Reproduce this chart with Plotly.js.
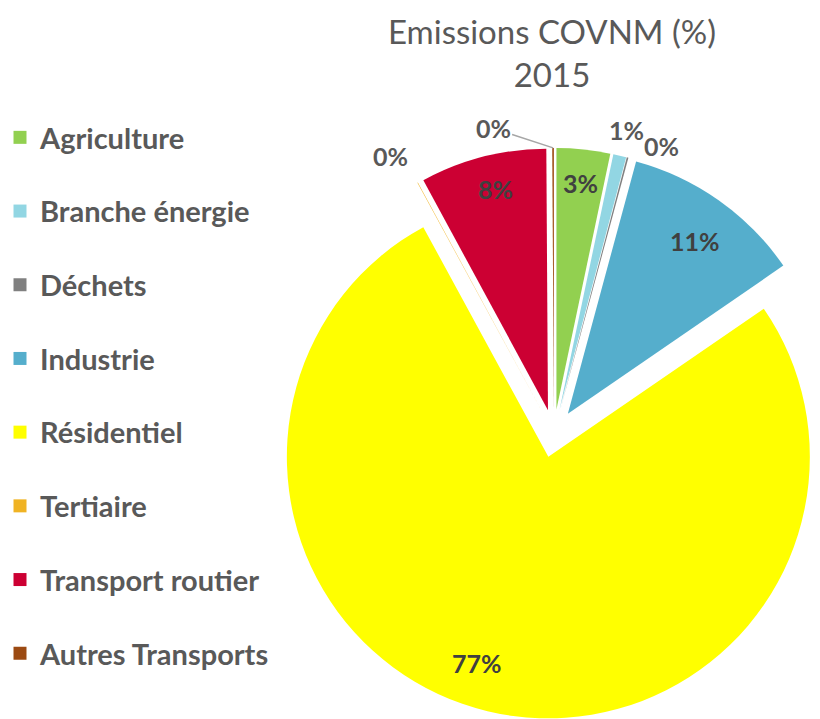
<!DOCTYPE html>
<html><head><meta charset="utf-8">
<script src="https://cdn.plot.ly/plotly-3.0.1.min.js"></script>
<style>html,body{margin:0;padding:0;overflow:hidden;background:#fff}#chart{width:840px;height:719px}</style>
</head><body><div id="chart"></div>
<script>
// ---- data ----
const categories = ['Agriculture', 'Branche énergie', 'Déchets', 'Industrie', 'Résidentiel', 'Tertiaire', 'Transport routier', 'Autres Transports'];
const shares = [3.3, 0.8, 0.1, 11.2, 76.6, 0.03, 7.8, 0.1];
const colors = ['#92D050', '#92D6E3', '#808080', '#55AECC', '#FFFF00', '#F0B323', '#CC0033', '#9C4A12'];
const chartTitle = 'Emissions COVNM (%)';
const chartSubtitle = '2015';

// ---- presentation ----
const W = 840, H = 719;
const CX = 554, CY = 434, R = 262, PULL = 0.092;
const labelRadius = [0.87, 1.10, 1.08, 0.82, 0.83, 1.14, 0.87, 1.10];
const labelTurn   = [0, 0, 6, 1, 5.6, -2, 1, -12];
const insideLabel = [true, false, false, true, true, false, true, false];
const leaderLine  = [false, false, false, false, false, false, false, true];

const half = R * (1 + PULL);
const domain = {
  x: [(CX - half) / W, (CX + half) / W],
  y: [Math.max(0, 1 - (CY + half) / H), 1 - (CY - half) / H]
};

const total = shares.reduce((a, b) => a + b, 0);
const rad = d => d * Math.PI / 180;
let cum = 0;
const annotations = [];
shares.forEach((v, i) => {
  const a0 = cum / total * 360;
  cum += v;
  const a1 = cum / total * 360;
  const mid = (a0 + a1) / 2;
  const sx = CX + R * PULL * Math.sin(rad(mid));
  const sy = CY - R * PULL * Math.cos(rad(mid));
  const la = mid + labelTurn[i];
  const lx = sx + labelRadius[i] * R * Math.sin(rad(la));
  const ly = sy - labelRadius[i] * R * Math.cos(rad(la));
  const txt = Math.round(v / total * 100) + '%';
  const font = {family: 'Lato', size: 25, weight: 'bold', color: insideLabel[i] ? '#404040' : '#595959'};
  if (leaderLine[i]) {
    const hx = sx + R * Math.sin(rad(mid));
    const hy = sy - R * Math.cos(rad(mid));
    annotations.push({xref: 'paper', yref: 'paper', x: hx / W, y: 1 - hy / H,
      ax: lx - hx, ay: ly - hy, axref: 'pixel', ayref: 'pixel',
      text: txt, showarrow: true, arrowhead: 0, arrowwidth: 1.5, arrowcolor: '#A6A6A6',
      font: font});
  } else {
    annotations.push({xref: 'paper', yref: 'paper', x: lx / W, y: 1 - ly / H,
      xanchor: 'center', yanchor: 'middle', text: txt, showarrow: false, font: font});
  }
});

const pieTrace = {
  type: 'pie', labels: categories, values: shares, sort: false,
  direction: 'clockwise', rotation: 0, pull: PULL,
  marker: {colors: colors, line: {width: 0}},
  textinfo: 'none', hoverinfo: 'label+percent', showlegend: false,
  domain: domain
};

const legendTraces = categories.map((c, i) => ({
  type: 'scatter', mode: 'markers', x: [null], y: [null], name: c,
  legendgroup: 'g' + i, hoverinfo: 'skip',
  marker: {symbol: 'square', size: 13, color: colors[i]}
}));

const layout = {
  width: W, height: H,
  margin: {l: 0, r: 0, t: 0, b: 0},
  paper_bgcolor: '#ffffff', plot_bgcolor: '#ffffff',
  xaxis: {visible: false, fixedrange: true},
  yaxis: {visible: false, fixedrange: true},
  title: {
    text: chartTitle + '<br>' + chartSubtitle,
    font: {family: 'Lato', size: 33, color: '#595959'},
    x: 552 / W, xanchor: 'center', xref: 'paper',
    y: 1 - 44 / H, yanchor: 'top', yref: 'container'
  },
  showlegend: true,
  legend: {
    x: 0, xanchor: 'left', y: 1 - 112 / H, yanchor: 'top',
    font: {family: 'Lato', size: 29, weight: 'bold', color: '#595959'},
    tracegroupgap: 33, bgcolor: 'rgba(0,0,0,0)', itemclick: false, itemdoubleclick: false
  },
  annotations: annotations
};

Plotly.newPlot('chart', legendTraces.concat([pieTrace]), layout, {displayModeBar: false, staticPlot: true});
</script></body></html>
